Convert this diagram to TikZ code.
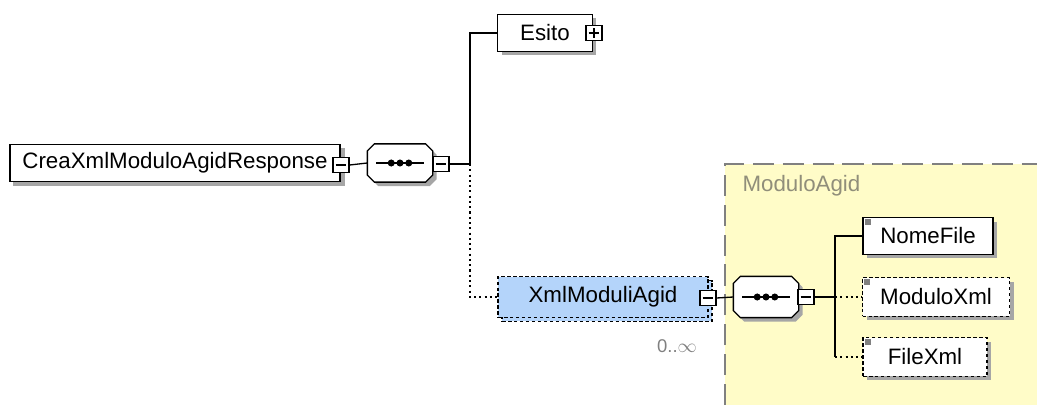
\documentclass[tikz,border=0pt]{standalone}
\usepackage{fontspec}
\setmainfont{Liberation Sans}
\usepackage{tikz}
\usetikzlibrary{shadows,backgrounds}
\definecolor{grpyellow}{HTML}{FFFCC8}
\definecolor{optblue}{HTML}{B4D4FA}
\begin{document}
\begin{tikzpicture}[x=0.02cm, y=-0.02cm, line width=0.75pt,
  every node/.style={font=\fontsize{12.7}{14}\selectfont},
  shd/.style={drop shadow={shadow xshift=0.08cm, shadow yshift=-0.08cm, fill=black!35, opacity=1}},
  elem/.style={draw, fill=white, shd, minimum height=0.74cm, inner sep=0pt},
  optelem/.style={elem, dash pattern=on 2pt off 1.4pt},
  simple/.style={path picture={\fill[gray] ([shift={(1pt,-1pt)}]path picture bounding box.north west) rectangle ++(3.5pt,-3.5pt);}},
  seq/.style={minimum width=1.28cm, minimum height=0.74cm, inner sep=0pt},
  optlink/.style={line width=1pt, dash pattern=on 1.2pt off 1.8pt},
  btn/.style={draw, fill=white, minimum width=0.32cm, minimum height=0.3cm, inner sep=0pt,
    path picture={\draw ([xshift=1.5pt]path picture bounding box.west) -- ([xshift=-1.5pt]path picture bounding box.east);}},
  btnplus/.style={btn,
    path picture={\draw ([xshift=1.5pt]path picture bounding box.west) -- ([xshift=-1.5pt]path picture bounding box.east);
      \draw ([yshift=-1.5pt]path picture bounding box.north) -- ([yshift=1.5pt]path picture bounding box.south);}}]
\useasboundingbox (0,0) rectangle (1037,405);

% ModuloAgid group in the background
\fill[grpyellow] (725,164) rectangle (1037,405);
\draw[gray, dash pattern=on 12pt off 5pt, line width=0.9pt] (725,405) -- (725,164) -- (1037,164);
\node[anchor=west, text=gray!85!olive] (grplbl) at (736,186) {ModuloAgid};

% Children of the root sequence
\node[elem, minimum width=1.9cm] (esito) at (545,33) {Esito};
\node[optelem, fill=optblue, minimum width=4.2cm, minimum height=0.82cm,
  copy shadow={shadow xshift=0.08cm, shadow yshift=-0.08cm}] (xmod) at (603,297) {XmlModuliAgid};
\node[text=gray, font=\fontsize{10.5}{12}\selectfont] (card) at (677,346) {0..$\infty$};

% Root element and its sequence
\node[draw, fill=white, minimum height=0.74cm, inner sep=0pt, minimum width=6.6cm] (root) at (175,163) {CreaXmlModuloAgidResponse};
\begin{scope}[on background layer]
  \fill[black!35] ([shift={(0.08cm,-0.08cm)}]root.south west) rectangle ([shift={(0.08cm,-0.08cm)}]root.north east);
\end{scope}
\node[seq] (seqa) at (400,163) {};
\coordinate (ja) at (470,164);

% Sequence inside ModuloAgid
\node[seq, minimum height=0.8cm] (seqb) at (766,297) {};
\coordinate (jb) at (835,297);
\node[elem, simple, minimum width=2.6cm] (nome) at (928,236) {NomeFile};
\node[optelem, simple, minimum width=2.94cm, minimum height=0.78cm] (modxml) at (936,297) {ModuloXml};
\node[optelem, simple, minimum width=2.48cm, minimum height=0.78cm] (filexml) at (925,357) {FileXml};

% sequence compositors: octagon with the three dots
\foreach \s in {seqa,seqb}{
  \draw[fill=white, shd] ([xshift=4pt]\s.north west) -- ([xshift=-4pt]\s.north east)
    -- ([yshift=-4pt]\s.north east) -- ([yshift=4pt]\s.south east)
    -- ([xshift=-4pt]\s.south east) -- ([xshift=4pt]\s.south west)
    -- ([yshift=4pt]\s.south west) -- ([yshift=-4pt]\s.north west) -- cycle;
  \draw[line width=1pt] ([xshift=5pt]\s.west) -- ([xshift=-5pt]\s.east);
  \foreach \dx in {-5pt,0pt,5pt} \fill ([xshift=\dx]\s.center) circle (2pt);
}

% expand buttons
\node[btn] (rootbtn) at (341,165) {};
\node[btn] (seqabtn) at (441,164) {};
\node[btnplus] (esitobtn) at (594,33) {};
\node[btn] (xmodbtn) at (708,298) {};
\node[btn] (seqbbtn) at (806,297) {};

% Connectors
\draw (rootbtn.east) -- (seqa.west);
\draw (seqabtn.east) -- (ja);
\draw (esito.west) -| (ja);
\draw[optlink] (ja) |- (xmod.west);
\draw (xmodbtn.east) -- (seqb.west);
\draw (seqbbtn.east) -- (jb);
\draw (nome.west) -| (jb) -- (jb |- filexml.west);
\draw[optlink] (jb) -- (modxml.west);
\draw[optlink] (jb |- filexml.west) -- (filexml.west);
\end{tikzpicture}
\end{document}
